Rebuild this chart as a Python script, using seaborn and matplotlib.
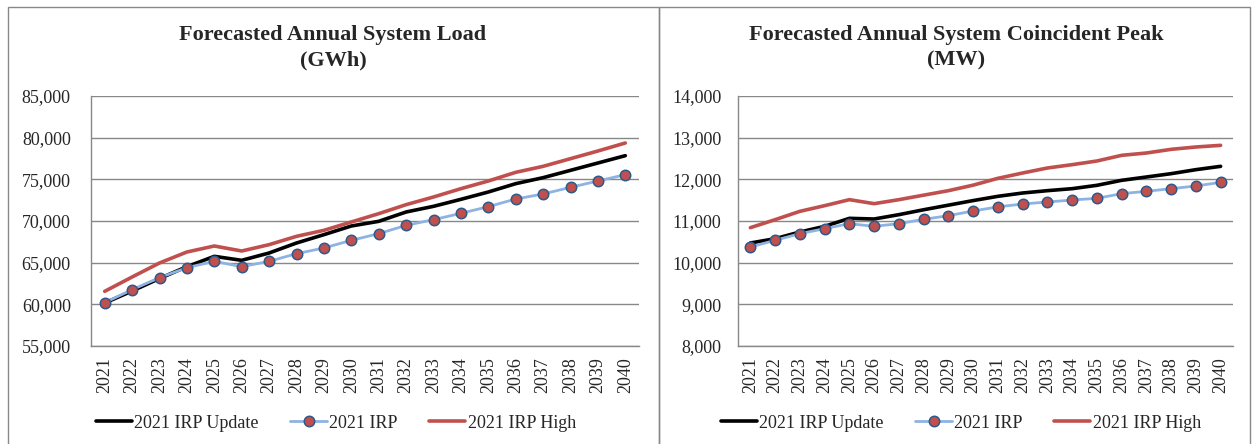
import pandas as pd
import numpy as np
import seaborn as sns
import matplotlib.pyplot as plt
from matplotlib.patches import Rectangle
from matplotlib.ticker import FuncFormatter, MultipleLocator

#-----------------------------------------------------------------------------------------
#----------------------------------- DATOS -----------------------------------------------
#-----------------------------------------------------------------------------------------

years = list(range(2021, 2041))
series_names = ['2021 IRP Update', '2021 IRP', '2021 IRP High']

# Forecasted Annual System Load (GWh)
load_update = [60160, 61600, 63100, 64520, 65760, 65280, 66160, 67360, 68360, 69400,
               69960, 71080, 71760, 72600, 73480, 74480, 75200, 76080, 76960, 77840]
load_irp = [60200, 61760, 63200, 64400, 65160, 64520, 65160, 66080, 66760, 67680,
            68480, 69480, 70160, 70920, 71720, 72640, 73240, 74040, 74800, 75560]
load_high = [61560, 63280, 64960, 66280, 67000, 66400, 67160, 68160, 68880, 69880,
             70880, 71960, 72880, 73880, 74800, 75840, 76560, 77480, 78400, 79360]

# Forecasted Annual System Coincident Peak (MW)
peak_update = [10472, 10576, 10736, 10872, 11064, 11048, 11152, 11270, 11380, 11490,
               11592, 11672, 11728, 11776, 11856, 11976, 12056, 12136, 12232, 12312]
peak_irp = [10376, 10536, 10696, 10816, 10936, 10872, 10936, 11040, 11128, 11240,
            11340, 11408, 11456, 11504, 11544, 11656, 11712, 11776, 11840, 11928]
peak_high = [10840, 11032, 11232, 11368, 11512, 11416, 11512, 11620, 11728, 11860,
             12024, 12152, 12272, 12352, 12440, 12576, 12632, 12720, 12776, 12816]

#-----------------------------------------------------------------------------------------
#----------------------------------- ESTILO ----------------------------------------------
#-----------------------------------------------------------------------------------------

sns.set_style('white')
plt.rcParams['font.family'] = ['Liberation Serif', 'DejaVu Serif']
plt.rcParams['font.size'] = 13

GRIS = '#888888'
estilos = {
    '2021 IRP Update': dict(color='black', lw=2.6, marker=None),
    '2021 IRP': dict(color='#8DB3E2', lw=2.0, marker='o'),
    '2021 IRP High': dict(color='#C0504D', lw=2.6, marker=None),
}


def armar_df(update, irp, high):
    df = pd.DataFrame({'Year': years, '2021 IRP Update': update,
                       '2021 IRP': irp, '2021 IRP High': high})
    return df.melt(id_vars='Year', var_name='Serie', value_name='Valor')


def dibujar_panel(ax, df, ymin, ymax, paso, ypad):
    for serie in series_names:
        st = estilos[serie]
        sub = df[df['Serie'] == serie]
        kw = dict(marker=st['marker'])
        if st['marker']:
            kw.update(markersize=7.5, markerfacecolor='#C0504D',
                      markeredgecolor='#2E5A8A', markeredgewidth=1.1)
        sns.lineplot(data=sub, x='Year', y='Valor', ax=ax, color=st['color'],
                     linewidth=st['lw'], label=serie, legend=False, **kw)

    ax.set_xlim(2020.5, 2040.5)
    ax.set_ylim(ymin, ymax)
    ax.yaxis.set_major_locator(MultipleLocator(paso))
    ax.yaxis.set_major_formatter(FuncFormatter(lambda v, p: f'{v:,.0f}'))
    ax.set_xticks(years)
    ax.set_xticklabels([str(y) for y in years], rotation=90)
    ax.set_xticks(np.arange(2020.5, 2041, 1), minor=True)
    ax.tick_params(axis='x', which='major', length=0, pad=8, labelsize=13)
    ax.tick_params(axis='x', which='minor', length=4, width=1, color=GRIS, direction='out')
    ax.tick_params(axis='y', length=4, width=1, color=GRIS, direction='out',
                   pad=ypad, labelsize=13)
    ax.grid(axis='y', color=GRIS, linewidth=1)
    ax.set_axisbelow(True)
    for s in ['top', 'right']:
        ax.spines[s].set_visible(False)
    for s in ['left', 'bottom']:
        ax.spines[s].set_color(GRIS)
        ax.spines[s].set_linewidth(1)
    ax.set_xlabel('')
    ax.set_ylabel('')


#-----------------------------------------------------------------------------------------
#----------------------------------- FIGURA ----------------------------------------------
#-----------------------------------------------------------------------------------------

W, H = 1252, 444
fig = plt.figure(figsize=(W / 100, H / 100), dpi=100)


def fx(px):
    return px / W


def fy(py):
    return 1 - py / H


ax1 = fig.add_axes([fx(91), fy(346), fx(639 - 91), (346 - 96) / H])
ax2 = fig.add_axes([fx(738), fy(346), fx(1233 - 738), (346 - 96) / H])

dibujar_panel(ax1, armar_df(load_update, load_irp, load_high), 55000, 85000, 5000, 10.5)
dibujar_panel(ax2, armar_df(peak_update, peak_irp, peak_high), 8000, 14000, 1000, 8)

# marcos de los paneles
for x0, x1 in [(8, 659), (659, 1250)]:
    fig.add_artist(Rectangle((fx(x0), fy(460)), fx(x1 - x0), (460 - 7) / H,
                             transform=fig.transFigure, fill=False,
                             edgecolor=GRIS, linewidth=1))

# titulos
fig.text(fx(333), fy(48), 'Forecasted Annual System Load\n(GWh)', ha='center',
         va='center', fontsize=16, fontweight='bold', linespacing=1.35)
fig.text(fx(956), fy(48), 'Forecasted Annual System Coincident Peak\n(MW)', ha='center',
         va='center', fontsize=16, fontweight='bold', linespacing=1.35)

# leyendas
handles, labels = ax1.get_legend_handles_labels()
for cx in [336, 961]:
    fig.legend(handles, labels, loc='center', bbox_to_anchor=(fx(cx), fy(423)),
               ncol=3, frameon=False, fontsize=13, handlelength=2.0,
               handletextpad=0.15, columnspacing=1.75)

fig.savefig('out.png', dpi=100)
